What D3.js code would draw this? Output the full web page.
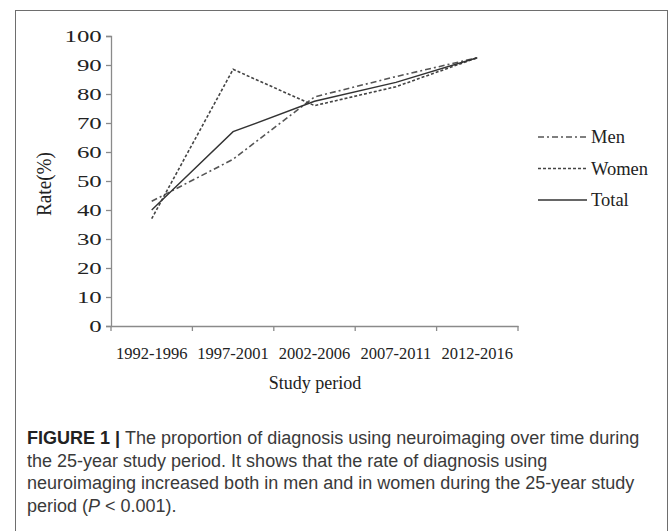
<!DOCTYPE html>
<html><head><meta charset="utf-8">
<script src="https://cdn.jsdelivr.net/npm/d3@7"></script>
<style>
html,body{margin:0;padding:0;background:#fff;}
svg{display:block;}
</style></head>
<body>
<svg id="chart" width="670" height="531"></svg>
<script>
const categories = ["1992-1996","1997-2001","2002-2006","2007-2011","2012-2016"];
const menValues   = [43, 57.5, 79, 86, 92.5];
const womenValues = [37, 88.5, 76, 82.5, 92.5];
const totalValues = [40, 67, 77.5, 84, 92.5];
const yTicks = [0,10,20,30,40,50,60,70,80,90,100];
const seriesNames = ["Men","Women","Total"];
const captionLines = [
  [{t:"FIGURE 1 | ",b:true},{t:"The proportion of diagnosis using neuroimaging over time during"}],
  [{t:"the 25-year study period. It shows that the rate of diagnosis using"}],
  [{t:"neuroimaging increased both in men and in women during the 25-year study"}],
  [{t:"period ("},{t:"P",i:true},{t:" < 0.001)."}]
];

const svg = d3.select("#chart");
const serif = "'Liberation Serif','Times New Roman',serif";

// frame
svg.append("rect").attr("x",15.5).attr("y",10.5).attr("width",652).attr("height",540)
  .attr("fill","none").attr("stroke","#6e6e6e").attr("stroke-width",1);

const x = d3.scaleBand().domain(categories).range([111,518]);
const y = d3.scaleLinear().domain([0,100]).range([326,36]);

// y axis
const yAxis = svg.append("g").attr("transform","translate(111,0)")
  .call(d3.axisLeft(y).tickValues(yTicks).tickSize(5).tickPadding(1.5).tickFormat(d3.format("d")));
yAxis.select(".domain").attr("stroke","#8a8a8a").attr("stroke-width",1.3);
yAxis.selectAll(".tick line").attr("stroke","#8a8a8a").attr("stroke-width",1.3);
yAxis.selectAll(".tick text").attr("font-family",serif).attr("font-size",17.5).attr("fill","#222")
  .attr("transform","scale(1.42,1)");

// x axis
const xAxis = svg.append("g").attr("transform","translate(0,326)")
  .call(d3.axisBottom(x).tickSize(0).tickPadding(21));
xAxis.select(".domain").attr("stroke","#8a8a8a").attr("stroke-width",1.3);
xAxis.selectAll(".tick text").attr("font-family",serif).attr("font-size",16.5).attr("fill","#222");
// boundary ticks
const bounds = categories.map(c=>x(c)).concat([x.range()[1]]);
xAxis.selectAll(".btick").data(bounds).enter().append("line")
  .attr("x1",d=>d).attr("x2",d=>d).attr("y1",0).attr("y2",5)
  .attr("stroke","#8a8a8a").attr("stroke-width",1.3);

// axis titles
svg.append("text").attr("transform","translate(51,184) rotate(-90) scale(1,1.25)")
  .attr("text-anchor","middle").attr("font-family",serif).attr("font-size",17).attr("fill","#222")
  .attr("textLength",64).attr("lengthAdjust","spacingAndGlyphs").text("Rate(%)");
svg.append("text").attr("x",315).attr("y",389).attr("text-anchor","middle")
  .attr("font-family",serif).attr("font-size",18).attr("fill","#222").text("Study period");

// lines
const styles = {
  Men:   {dash:"6,3,2,3", color:"#555", w:1.6},
  Women: {dash:"3,2", color:"#444", w:1.6},
  Total: {dash:null, color:"#333", w:1.4}
};
const data = {Men:menValues, Women:womenValues, Total:totalValues};
const line = d3.line().x((d,i)=>x(categories[i])+x.bandwidth()/2).y(d=>y(d));
seriesNames.forEach(n=>{
  svg.append("path").datum(data[n]).attr("d",line).attr("fill","none")
    .attr("stroke",styles[n].color).attr("stroke-width",styles[n].w)
    .attr("stroke-dasharray",styles[n].dash);
});

// legend
const leg = svg.append("g");
seriesNames.forEach((n,i)=>{
  const ly = 137 + i*31.5;
  leg.append("line").attr("x1",538).attr("x2",587).attr("y1",ly).attr("y2",ly)
    .attr("stroke",styles[n].color).attr("stroke-width",styles[n].w).attr("stroke-dasharray",styles[n].dash);
  leg.append("text").attr("x",591).attr("y",ly+6).attr("font-family",serif).attr("font-size",18.5)
    .attr("fill","#222").text(n);
});

// caption
const cap = svg.append("g");
captionLines.forEach((parts,i)=>{
  const t = cap.append("text").attr("x",27).attr("y",444+i*22.5)
    .attr("font-family","'Liberation Sans',Arial,sans-serif").attr("font-size",18).attr("fill","#3a3a3a");
  parts.forEach(p=>{
    t.append("tspan").text(p.t).attr("font-weight",p.b?"bold":null)
      .attr("font-style",p.i?"italic":null).attr("fill",p.b?"#222":null);
  });
});
</script>
</body></html>
